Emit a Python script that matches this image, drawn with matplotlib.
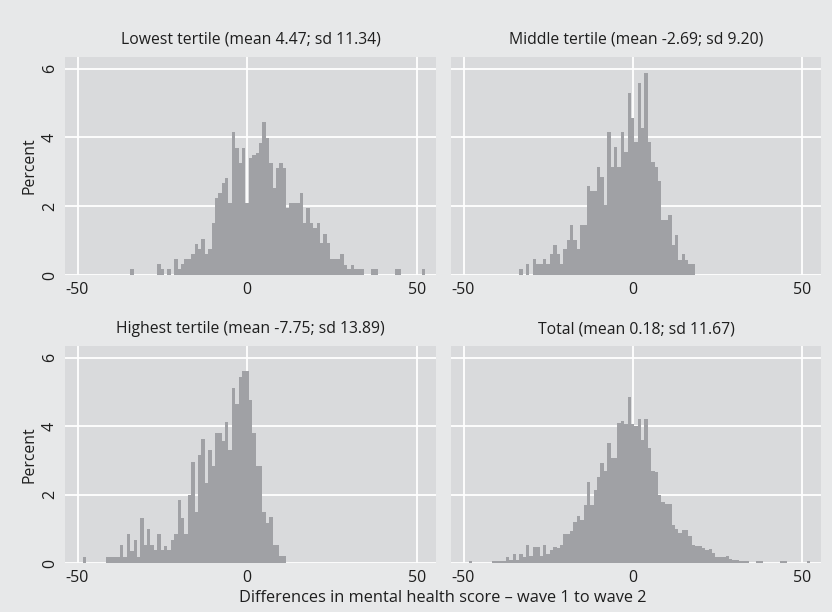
import numpy as np
import matplotlib.pyplot as plt

# panel titles
titles = [
    "Lowest tertile (mean 4.47; sd 11.34)",
    "Middle tertile (mean -2.69; sd 9.20)",
    "Highest tertile (mean -7.75; sd 13.89)",
    "Total (mean 0.18; sd 11.67)",
]

# percent per 1-point bin, first value is the bin centred on *_start
lowest_start = -34
lowest_pct = [0.17, 0, 0, 0, 0, 0, 0, 0, 0.31, 0.17, 0, 0.17, 0, 0.46, 0.17, 0.31,
              0.46, 0.46, 0.61, 0.90, 0.76, 1.05, 0.61, 0.76, 1.51, 2.24, 2.39, 2.68,
              2.82, 2.09, 4.16, 3.70, 3.26, 3.70, 2.09, 3.41, 3.48, 3.55, 3.85, 4.45,
              3.99, 3.26, 2.53, 3.12, 3.26, 3.12, 1.95, 2.09, 2.09, 2.09, 2.39, 1.51,
              1.95, 1.51, 1.36, 1.51, 0.92, 1.19, 0.92, 0.46, 0.46, 0.46, 0.61, 0.29,
              0.17, 0.29, 0.17, 0.17, 0.17, 0, 0, 0.17, 0.17, 0, 0, 0, 0, 0,
              0.17, 0.17, 0, 0, 0, 0, 0, 0, 0.17]

middle_start = -33
middle_pct = [0.17, 0, 0.31, 0, 0.46, 0.31, 0.31, 0.46, 0.31, 0.61, 0.88, 0.61, 0.31,
              0.76, 1.02, 1.46, 1.02, 0.76, 1.46, 1.46, 2.60, 2.45, 2.45, 3.13, 2.85,
              2.04, 4.15, 3.13, 3.72, 3.13, 4.15, 3.58, 5.29, 4.58, 3.86, 5.58, 4.27,
              5.87, 3.86, 3.30, 3.13, 2.74, 1.60, 1.60, 1.75, 0.87, 1.17, 0.44, 0.60,
              0.44, 0.31, 0.31]

highest_start = -48
highest_pct = [0.175, 0, 0, 0, 0, 0, 0, 0.175, 0.175, 0.175, 0.175, 0.52, 0.175, 0.85,
               0.35, 0.66, 0.175, 1.31, 0.53, 1.00, 0.52, 0.37, 0.85, 0.37, 0.50, 0.37,
               0.68, 0.85, 1.83, 1.31, 0.85, 2.00, 2.96, 1.50, 3.16, 3.61, 2.33, 3.30,
               2.82, 3.79, 3.79, 3.55, 4.13, 3.30, 5.10, 4.66, 5.44, 5.60, 5.60, 4.76,
               3.79, 2.82, 2.82, 1.50, 1.18, 1.33, 0.53, 0.53, 0.19, 0.19]

total_start = -48
total_pct = [0.06, 0, 0, 0, 0, 0, 0, 0.06, 0.06, 0.06, 0.06, 0.175, 0.10, 0.27, 0.10,
             0.27, 0.175, 0.52, 0.20, 0.47, 0.47, 0.21, 0.52, 0.27, 0.37, 0.47, 0.44,
             0.54, 0.86, 0.86, 0.93, 1.20, 1.38, 1.26, 1.70, 2.38, 1.70, 2.14, 2.50,
             2.93, 2.68, 3.50, 3.06, 3.06, 4.08, 4.14, 4.05, 4.84, 4.05, 4.00, 4.22,
             3.60, 4.22, 3.35, 2.70, 2.65, 1.99, 1.77, 1.73, 1.73, 1.10, 0.99, 0.87,
             0.97, 0.97, 0.78, 0.54, 0.50, 0.50, 0.45, 0.39, 0.41, 0.29, 0.17, 0.17,
             0.17, 0.20, 0.12, 0.10, 0.10, 0.06, 0.06, 0.06, 0, 0, 0.06, 0.06, 0, 0,
             0, 0, 0, 0.06, 0.06, 0, 0, 0, 0, 0, 0, 0.06]

x_ticks = [-50, 0, 50]
y_ticks = [0, 2, 4, 6]

plt.rcParams['font.family'] = ['Open Sans', 'DejaVu Sans']
plt.rcParams['axes.unicode_minus'] = False

bg = '#e7e8e9'
plot_bg = '#d9dadc'
bar_col = '#a0a1a5'
txt = '#1e1e1e'

W, H = 832, 612
fig = plt.figure(figsize=(W / 100, H / 100), dpi=100, facecolor=bg)

# pixel boxes: left, top, width, height
boxes = [(65, 57, 371, 218), (451, 57, 370, 218),
         (65, 346, 371, 217), (451, 346, 370, 217)]
series = [(lowest_start, lowest_pct), (middle_start, middle_pct),
          (highest_start, highest_pct), (total_start, total_pct)]

for i, ((l, t, w, h), (start, pct), title) in enumerate(zip(boxes, series, titles)):
    ax = fig.add_axes([l / W, 1 - (t + h) / H, w / W, h / H])
    ax.set_facecolor(plot_bg)
    vals = np.array(pct)
    edges = start - 0.5 + np.arange(len(vals) + 1)
    ax.stairs(vals, edges, fill=True, color=bar_col, linewidth=0, zorder=2)
    ax.set_xlim(-53.7, 55.7)
    ax.set_ylim(0, 6.34)
    ax.set_xticks(x_ticks)
    ax.set_yticks(y_ticks)
    ax.set_yticklabels([str(v) for v in y_ticks], rotation=90, va='center')
    ax.grid(True, color='white', linewidth=1.3)
    ax.set_axisbelow(True)
    for s in ax.spines.values():
        s.set_visible(False)
    ax.tick_params(length=0, labelsize=11.5, colors=txt, pad=5)
    if i % 2 == 1:
        ax.tick_params(axis='y', labelleft=False)
    fig.text((l + w / 2) / W, 1 - (t - 17) / H, title, ha='center', va='center',
             fontsize=11.3, color=txt)

fig.text(30 / W, 1 - 166 / H, "Percent", rotation=90, ha='center', va='center',
         fontsize=11.3, color=txt)
fig.text(30 / W, 1 - 455 / H, "Percent", rotation=90, ha='center', va='center',
         fontsize=11.3, color=txt)
fig.text(443 / W, 1 - 598 / H, "Differences in mental health score \u2013 wave 1 to wave 2",
         ha='center', va='center', fontsize=11.8, color=txt)

fig.savefig("out.png", dpi=100, facecolor=bg)
